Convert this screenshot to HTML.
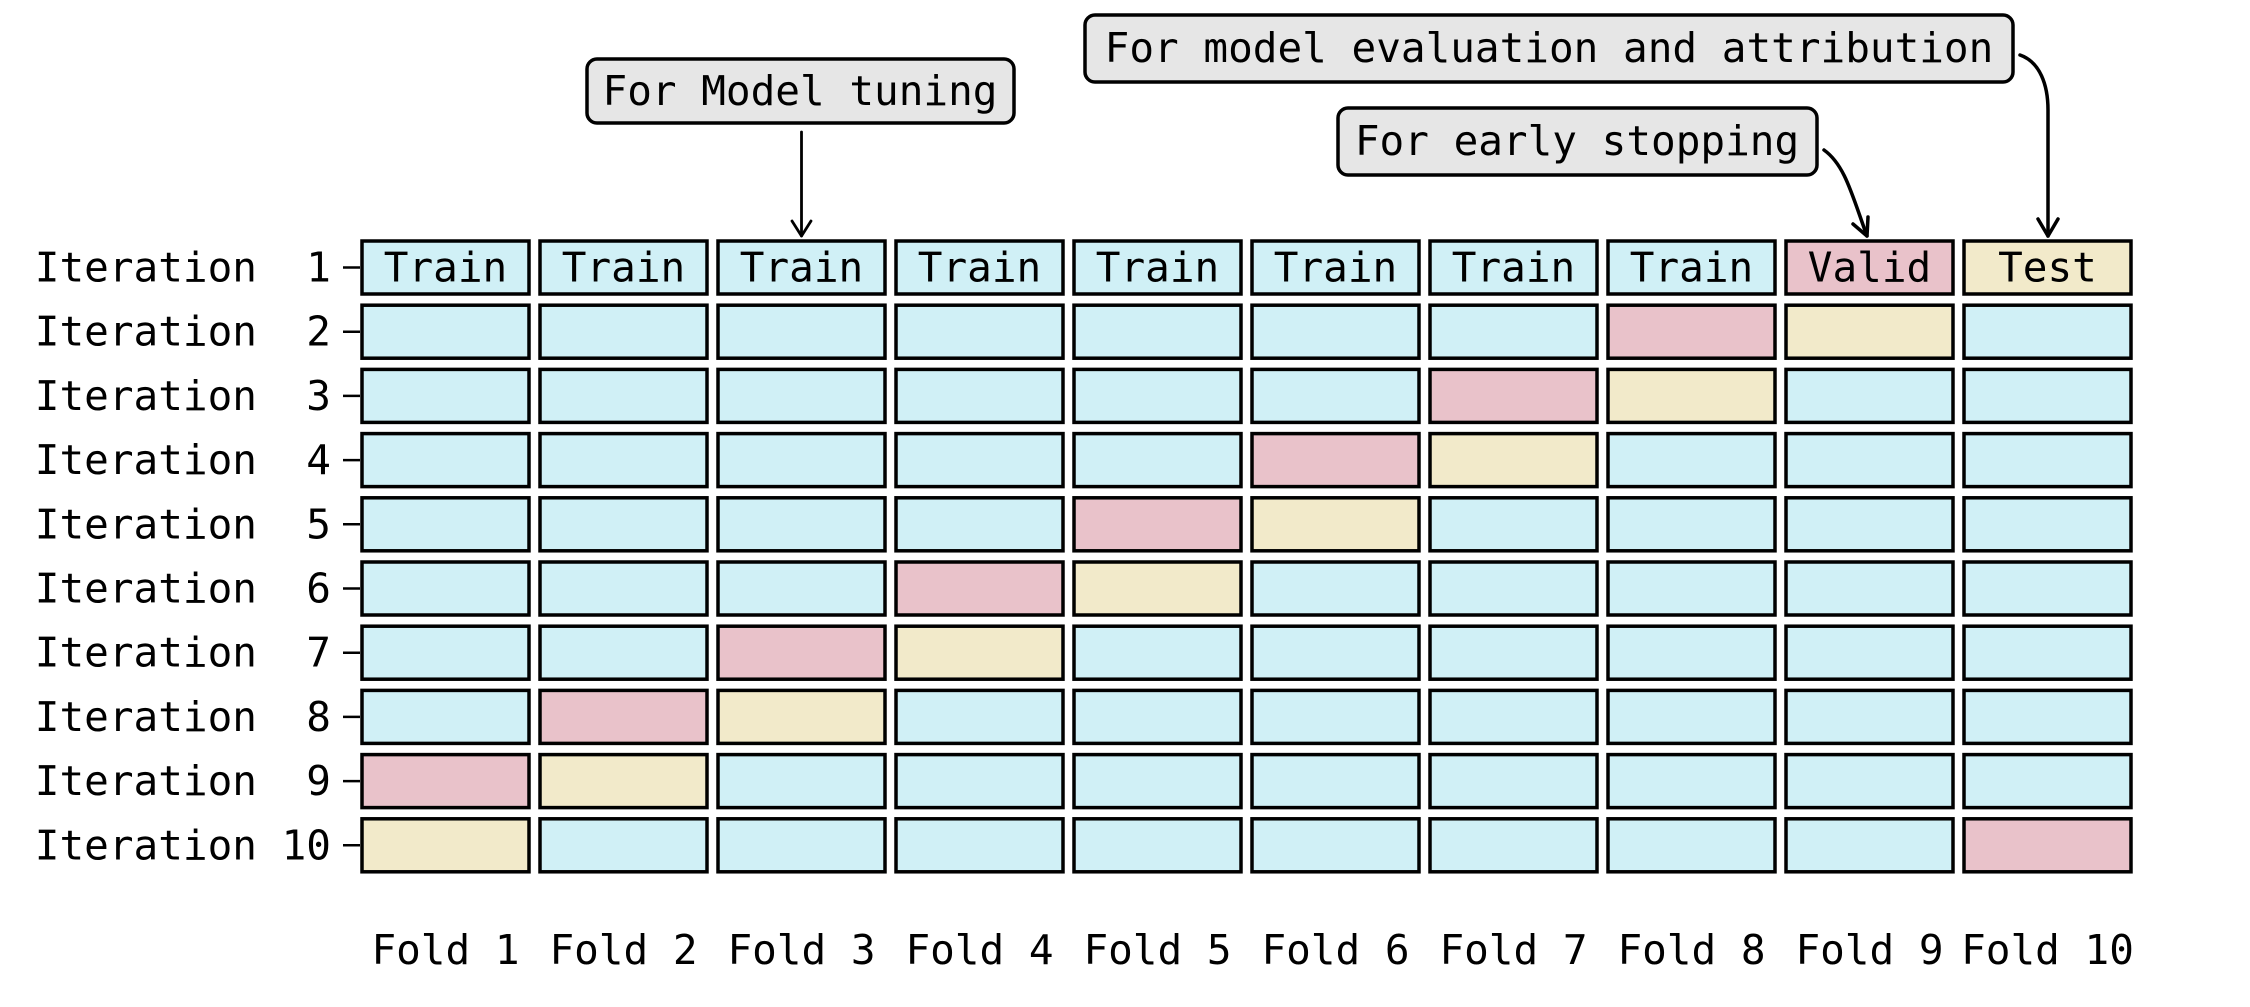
<!DOCTYPE html>
<html><head><meta charset="utf-8"><style>
html,body{margin:0;padding:0;background:#fff;}
svg text{font-family:"DejaVu Sans Mono","Liberation Mono",monospace;font-size:41px;fill:#000;white-space:pre;}
</style></head><body>
<svg width="2250" height="1002" viewBox="0 0 2250 1002" xmlns="http://www.w3.org/2000/svg">
<g id="grid" stroke="#000" stroke-width="3.5">
</g>
<g id="labels"></g>
<!-- annotations -->
<rect x="587" y="59" width="427" height="64" rx="10" fill="#e6e6e6" stroke="#000" stroke-width="3.5"/>
<text x="800" y="91" text-anchor="middle" dominant-baseline="central">For Model tuning</text>
<rect x="1085" y="15" width="928" height="67" rx="10" fill="#e6e6e6" stroke="#000" stroke-width="3.5"/>
<text x="1549" y="48" text-anchor="middle" dominant-baseline="central">For model evaluation and attribution</text>
<rect x="1338" y="108" width="479" height="67" rx="10" fill="#e6e6e6" stroke="#000" stroke-width="3.5"/>
<text x="1577" y="141" text-anchor="middle" dominant-baseline="central">For early stopping</text>
<g fill="none" stroke="#000" stroke-linecap="round" stroke-linejoin="round">
<path d="M801.5 132 L801.5 236" stroke-width="2.8"/>
<path d="M792 221 L801.5 236 L811 221" stroke-width="2.8"/>
<path d="M2020 55 C2040 62 2048 85 2048 110 L2048 236" stroke-width="3.5"/>
<path d="M2038 219 L2048 236 L2058 219" stroke-width="3.5"/>
<path d="M1824 150 C1845 165 1852 195 1867 236" stroke-width="3.5"/>
<path d="M1853 224 L1867 236 L1868 217" stroke-width="3.5"/>
</g>
</svg>
<script>
(function(){
var ns="http://www.w3.org/2000/svg";
var g=document.getElementById("grid"),L=document.getElementById("labels");
var svg=g.ownerSVGElement;
function el(n,a,p,t){var e=document.createElementNS(ns,n);for(var k in a)e.setAttribute(k,a[k]);if(t!=null)e.textContent=t;(p||svg).appendChild(e);return e;}
var TR="#d0f0f6",VA="#e9c2ca",TE="#f2eaca";
for(var i=0;i<10;i++){
  var top=241+64.2*i, h=53, cy=top+h/2;
  var v=(i==9)?9:8-i, t=(i==9)?0:9-i;
  for(var c=0;c<10;c++){
    var x=362+178*c;
    var f=c==v?VA:(c==t?TE:TR);
    el("rect",{x:x,y:top,width:167,height:h,fill:f},g);
    if(i==0){
      var s=c==v?"Valid":(c==t?"Test":"Train");
      el("text",{x:x+83.5,y:cy,"text-anchor":"middle","dominant-baseline":"central"},L,s);
    }
  }
  el("line",{x1:343,y1:cy,x2:360,y2:cy,stroke:"#000","stroke-width":2.5},L);
  el("text",{x:331,y:cy,"text-anchor":"end","dominant-baseline":"central"},L,"Iteration "+(i<9?" ":"")+(i+1));
}
for(var c=0;c<10;c++){
  el("text",{x:362+178*c+83.5,y:950,"text-anchor":"middle","dominant-baseline":"central"},L,"Fold "+(c+1));
}
})();
</script>
</body></html>
